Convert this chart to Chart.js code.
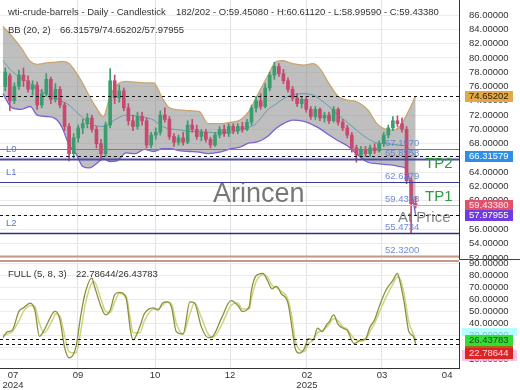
<!DOCTYPE html>
<html>
<head>
<meta charset="utf-8">
<script src="https://cdn.jsdelivr.net/npm/chart.js@4.4.1/dist/chart.umd.min.js"></script>
<style>
  html, body { margin: 0; padding: 0; background: #fff; }
  #wrap { position: relative; width: 520px; height: 390px; overflow: hidden; }
  canvas { position: absolute; left: 0; }
  #priceCanvas { top: 0; }
  #stochCanvas { top: 260px; }
</style>
</head>
<body>
<div id="wrap">
  <canvas id="priceCanvas" width="520" height="260"></canvas>
  <canvas id="stochCanvas" width="520" height="130"></canvas>
</div>
<script>
// ---- data (bar index on x) ----
const candleIdx = [1,3,5,7,9,11,13,15,17,19, 21,23,25,27,29,31,33,35,37,39,
  41,43,45,47,49,51,53,55,57,59, 61,63,65,67,69,71,73,75,77,79,
  81,83,85,87,89,91,93,95,97,99, 101,103,105,107,109,111,113,115,117,119,
  121,123,125,127,129,131,133,135,137,139, 141,143,145,147,149,151,153,155,157,159,
  161,163,165,167,169,171,173,175,177,179, 181];
const opens = [76.0,77.5,74.0,76.0,77.6,76.8,75.6,76.2,73.4,75.0,
  77.0,74.2,75.6,73.4,70.4,66.6,68.8,70.2,70.8,71.6,
  70.0,68.0,66.6,70.6,76.8,74.4,75.4,73.0,71.2,70.4,
  71.8,71.2,67.8,69.2,69.6,72.0,71.4,69.0,68.2,68.8,
  68.2,70.6,70.0,69.0,69.6,68.6,67.8,69.2,70.0,69.4,
  70.4,69.8,70.4,70.0,71.0,73.0,74.0,73.2,75.8,77.6,
  78.8,77.8,76.8,75.6,74.4,73.6,74.2,72.8,71.8,72.8,
  71.6,72.0,71.2,72.8,71.0,70.2,69.2,67.4,66.4,67.2,
  66.6,67.4,67.0,68.0,69.2,70.2,71.2,70.8,70.0,62.8,
  59.4508];
const highs = [78.6,77.8,76.5,78.3,78.6,77.5,76.8,76.6,75.6,77.8,
  77.3,76.4,76.0,73.8,70.8,69.4,70.6,71.4,72.2,72.0,
  70.4,68.6,71.0,78.5,77.6,76.2,75.8,73.6,72.0,72.4,
  72.4,71.6,69.6,70.2,72.6,73.0,71.8,69.4,69.2,69.6,
  71.2,71.4,70.6,70.0,70.0,68.9,69.6,70.4,70.6,70.8,
  70.8,70.8,71.0,71.4,73.4,74.6,75.0,76.4,78.0,79.4,
  79.2,78.4,77.2,76.0,75.0,74.6,74.6,73.2,73.2,73.0,
  72.4,72.4,73.2,73.0,71.4,70.6,69.6,67.8,67.6,67.6,
  67.8,68.0,68.4,69.6,70.6,71.8,71.9,71.6,70.4,63.2,
  60.6112];
const lows = [75.4,72.6,73.6,75.6,76.0,75.2,74.8,72.8,73.0,74.6,
  73.6,73.8,73.0,69.8,65.6,66.0,68.2,69.4,70.2,69.6,
  67.4,65.7,66.2,70.2,73.6,73.8,72.6,70.6,69.8,70.0,
  70.6,67.4,67.4,68.6,69.2,71.0,68.6,67.6,67.8,67.8,
  68.0,69.6,68.6,68.4,68.2,67.4,67.6,68.8,69.0,69.0,
  69.4,69.4,69.6,69.8,70.6,72.4,72.8,73.0,75.4,77.0,
  77.4,76.4,75.2,74.0,73.2,73.0,72.4,71.4,71.4,71.2,
  71.0,70.8,71.0,70.6,69.8,68.8,66.8,65.4,66.0,66.2,
  66.2,66.6,66.8,67.6,68.8,69.8,70.4,69.6,62.4,55.5,
  58.9959];
const closes = [78.0,74.0,76.0,77.6,76.8,75.6,76.2,73.4,75.0,77.0,
  74.2,75.6,73.4,70.4,66.6,68.8,70.2,70.8,71.6,70.0,
  68.0,66.6,70.6,76.8,74.4,75.4,73.0,71.2,70.4,71.8,
  71.2,67.8,69.2,69.6,72.0,71.4,69.0,68.2,68.8,68.2,
  70.6,70.0,69.0,69.6,68.6,67.8,69.2,70.0,69.4,70.4,
  69.8,70.4,70.0,71.0,73.0,74.0,73.2,75.8,77.6,78.8,
  77.8,76.8,75.6,74.4,73.6,74.2,72.8,71.8,72.8,71.6,
  72.0,71.2,72.8,71.0,70.2,69.2,67.4,66.4,67.2,66.6,
  67.4,67.0,68.0,69.2,70.2,71.2,70.8,70.0,62.8,59.6,
  59.4338];

// Bollinger bands (20, 2)
const bbIdx = [0,4,8,12,15,19,23,26,29,32, 35,38,41,44,47,50,54,58,62,66,
  70,73,78,82,86,90,95,100,104,108, 111,116,120,123,127,132,136,139,143,147,
  151,155,160,164,167,171,174,177,179,181];
const bbUpper = [84.4,83.0,81.4,79.5,79.1,79.3,79.4,79.5,79.2,78.0,
  76.4,74.6,73.0,71.8,74.6,76.2,76.7,76.6,76.5,76.5,
  74.3,73.0,72.7,72.6,72.5,70.8,70.8,71.0,71.3,72.6,
  74.4,77.4,79.5,79.6,79.2,79.0,79.2,78.5,76.4,74.6,
  74.1,73.9,72.7,70.8,70.1,69.9,70.4,72.0,73.3,74.65202];
const bbMiddle = [79.6,78.1,77.2,76.4,75.6,75.0,74.4,73.9,73.4,72.5,
  71.6,70.8,70.5,70.4,70.9,71.5,72.0,71.9,71.7,71.3,
  70.4,70.1,69.9,69.7,69.7,69.6,69.5,69.6,69.9,70.3,
  70.8,72.7,73.6,74.3,74.8,75.0,74.8,74.2,73.2,72.0,
  71.0,69.9,68.7,68.1,68.0,67.9,67.8,67.6,67.0,66.31579];
const bbLower = [75.0,73.0,72.8,73.2,72.0,71.8,71.5,70.2,67.8,66.6,
  64.8,64.6,65.2,65.9,65.5,65.6,66.7,66.6,67.2,66.9,
  67.3,67.3,67.0,66.9,66.8,66.6,66.8,67.3,67.5,68.1,
  68.2,69.0,70.2,70.8,71.3,71.1,70.6,70.1,69.2,68.4,
  67.7,66.6,65.4,65.2,65.1,65.0,64.8,64.4,61.5,57.97955];

// Full stochastic (5, 8, 3)
const stochIdx = [0,2,4,7,9,12,14,16,18,22, 23,25,27,29,32,34,36,39,40,43,
  45,47,49,51,54,56,57,60,62,66, 68,70,72,74,76,79,82,84,87,90,
  92,96,100,103,105,108,109,111,114,116, 118,120,122,125,127,128,130,132,134,136,
  138,140,142,143,145,147,149,151,154,157, 159,161,163,165,168,171,173,174,176,178,
  180,181];
const stochK = [28,33,34,50,53,57,51,29,34,49, 50,43,20,11,20,45,65,78,72,54,
  47,51,64,66,61,33,26,37,48,53, 51,57,58,53,33,31,58,57,37,28,
  29,45,59,55,50,54,68,80,82,76, 69,71,65,57,33,20,15,18,27,26,
  36,33,39,41,47,39,36,34,23,26, 27,37,43,54,68,76,82,76,57,33,
  29,22.78644];
const stochD = [30,31,33,42,50,55,54,40,32,44, 48,46,30,16,15,32,55,74,75,60,
  50,49,58,65,63,42,32,32,42,52, 52,55,58,56,40,31,48,57,45,31,
  28,39,55,57,52,52,61,75,81,79, 72,70,67,60,42,27,18,16,23,26,
  32,34,37,39,44,42,37,35,27,25, 26,33,40,49,62,73,79,78,64,41,
  31,26.43783];

// horizontal levels
const levelValues = [67.197, 65.8958, 62.6279, 59.4338, 55.4734, 52.32];
const levelTags = ['', 'L0', 'L1', '', 'L2', ''];

// x axis ticks (bar index) and labels
const tickPos = [4.4, 32.9, 66.7, 99.6, 133.3, 166.2, 194.8];
const tickMonths = ['07', '09', '10', '12', '02', '03', '04'];
const tickYears = ['2024', '', '', '', '2025', '', ''];

const barNumber = '182/202';

// ---- drawing ----
const FONT = '"Liberation Sans", Arial, sans-serif';
Chart.defaults.font.family = FONT;
Chart.defaults.font.size = 9.5;
Chart.defaults.color = '#333';

const GREEN = '#3a9d6e';
const RED = '#c8496f';
const xMin = -1.3, xMax = 200;

const pts = (xs, ys) => xs.map((x, i) => ({ x: x, y: ys[i] }));
const candleColors = closes.map((c, i) => c >= opens[i] ? GREEN : RED);
const gridCol = (ctx) => (ctx.index === 0 || ctx.index === tickPos.length - 1) ? 'rgba(0,0,0,0)' : '#e2e2e2';

function xScale(showLabels, h) {
  return {
    type: 'linear', min: xMin, max: xMax, offset: false,
    afterBuildTicks: (s) => { s.ticks = tickPos.map(v => ({ value: v })); },
    afterFit: (s) => { s.height = h; s.paddingLeft = 0; s.paddingRight = 0; },
    ticks: {
      display: showLabels, autoSkip: false, maxRotation: 0, minRotation: 0, padding: 3,
      color: '#333', font: { size: 9.5, lineHeight: 1 },
      callback: (v, i) => tickYears[i] ? [tickMonths[i], tickYears[i]] : tickMonths[i]
    },
    grid: { color: gridCol, drawTicks: false, offset: false },
    border: { display: showLabels, color: '#333' }
  };
}

function yScale(min, max, step) {
  return {
    position: 'right', min: min, max: max,
    afterFit: (s) => { s.width = 61; s.paddingTop = 0; s.paddingBottom = 0; },
    ticks: {
      stepSize: step, includeBounds: false, autoSkip: false, padding: 10, color: '#333',
      callback: (v) => v > max - 1.5 && step === 2 ? null : v.toFixed(5)
    },
    grid: { color: '#ececec', drawTicks: false },
    border: { color: '#333' }
  };
}

function valueBox(ctx, yy, bg, fg, text) {
  ctx.fillStyle = bg;
  ctx.fillRect(465, Math.round(yy) - 5, 48, 11);
  ctx.fillStyle = fg;
  ctx.fillText(text, 469, Math.round(yy) + 0.5);
}

const levelStyles = [
  { color: '#4c9c4c', width: 1 },
  { color: '#4a4aaa', width: 2 },
  { color: '#3a3a9c', width: 1 },
  { color: '#b4b4b4', width: 1 },
  { color: '#2c2c8c', width: 1.5 },
  { color: '#c49a8a', width: 2 }
];

const priceOverlay = {
  id: 'priceOverlay',
  afterDatasetsDraw(chart) {
    const { ctx, chartArea: a, scales: { y } } = chart;
    const py = (v) => Math.round(y.getPixelForValue(v));
    ctx.save();
    ctx.beginPath();
    ctx.rect(a.left, a.top, a.right - a.left, a.bottom - a.top);
    ctx.clip();

    levelValues.forEach((v, i) => {
      const st = levelStyles[i];
      const yy = py(v) + 0.5;
      ctx.strokeStyle = st.color;
      ctx.lineWidth = st.width;
      ctx.beginPath(); ctx.moveTo(a.left, yy); ctx.lineTo(a.right, yy); ctx.stroke();
    });

    ctx.setLineDash([3, 3]);
    ctx.strokeStyle = '#111';
    ctx.lineWidth = 1;
    [bbUpper[bbUpper.length - 1], bbMiddle[bbMiddle.length - 1], bbLower[bbLower.length - 1]].forEach(v => {
      const yy = py(v) + 0.5;
      ctx.beginPath(); ctx.moveTo(a.left, yy); ctx.lineTo(a.right, yy); ctx.stroke();
    });
    ctx.setLineDash([]);

    ctx.textBaseline = 'middle';
    ctx.font = '9.5px ' + FONT;
    ctx.fillStyle = 'rgba(95,125,215,0.9)';
    levelValues.forEach(v => ctx.fillText(v.toFixed(4), 385, py(v) - 6));
    ctx.fillStyle = '#5b78cc';
    levelTags.forEach((t, i) => { if (t) ctx.fillText(t, 6, py(levelValues[i]) - 9.5); });

    ctx.textBaseline = 'alphabetic';
    ctx.font = '27px ' + FONT;
    ctx.fillStyle = 'rgba(95,95,95,0.85)';
    ctx.fillText('Arincen', 213, 202);
    ctx.font = '15px ' + FONT;
    ctx.fillStyle = '#2e9a3e';
    ctx.fillText('TP2', 425, 168);
    ctx.fillText('TP1', 425, 201);
    ctx.fillStyle = 'rgba(110,110,110,0.85)';
    ctx.fillText('At Price', 398, 222);
    ctx.restore();
  },
  afterDraw(chart) {
    const { ctx, scales: { y } } = chart;
    const last = candleIdx.length - 1;
    ctx.save();
    ctx.font = '9.5px ' + FONT;
    ctx.textBaseline = 'middle';
    ctx.fillStyle = '#333';
    ctx.fillText('wti-crude-barrels - Daily - Candlestick', 8, 12);
    ctx.fillText(barNumber + ' - O:' + opens[last].toFixed(5) + ' - H:' + highs[last].toFixed(5) +
      ' - L:' + lows[last].toFixed(5) + ' - C:' + closes[last].toFixed(5), 176, 12);
    ctx.fillText('BB (20, 2)', 8, 30);
    ctx.fillText(bbMiddle[bbMiddle.length - 1].toFixed(5) + '/' + bbUpper[bbUpper.length - 1].toFixed(5) +
      '/' + bbLower[bbLower.length - 1].toFixed(5), 60, 30);

    valueBox(ctx, y.getPixelForValue(bbUpper[bbUpper.length - 1]), '#e2a94a', '#2a2000', bbUpper[bbUpper.length - 1].toFixed(5));
    valueBox(ctx, y.getPixelForValue(bbMiddle[bbMiddle.length - 1]), '#2f8ee6', '#fff', bbMiddle[bbMiddle.length - 1].toFixed(5));
    valueBox(ctx, y.getPixelForValue(closes[last]), '#e2506a', '#ffe8ee', closes[last].toFixed(5));
    valueBox(ctx, y.getPixelForValue(bbLower[bbLower.length - 1]), '#6f3ce0', '#fff', bbLower[bbLower.length - 1].toFixed(5));

    ctx.fillStyle = '#444';
    ctx.fillRect(459, 259, 61, 1);
    ctx.restore();
  }
};

const stochOverlay = {
  id: 'stochOverlay',
  afterDatasetsDraw(chart) {
    const { ctx, chartArea: a, scales: { y } } = chart;
    ctx.save();
    ctx.setLineDash([3, 3]);
    ctx.strokeStyle = '#111';
    ctx.lineWidth = 1;
    [stochD[stochD.length - 1], stochK[stochK.length - 1]].forEach(v => {
      const yy = Math.round(y.getPixelForValue(v)) + 0.5;
      ctx.beginPath(); ctx.moveTo(a.left, yy); ctx.lineTo(a.right, yy); ctx.stroke();
    });
    ctx.restore();
  },
  afterDraw(chart) {
    const { ctx, chartArea: a, scales: { y } } = chart;
    const kLast = stochK[stochK.length - 1], dLast = stochD[stochD.length - 1];
    ctx.save();
    ctx.fillStyle = '#c49a8a';
    ctx.fillRect(a.left, 0, a.right - a.left, 2);
    ctx.font = '9.5px ' + FONT;
    ctx.textBaseline = 'middle';
    ctx.fillStyle = '#333';
    ctx.fillText('FULL (5, 8, 3)', 8, 14);
    ctx.fillText(kLast.toFixed(5) + '/' + dLast.toFixed(5), 76, 14);

    const yd = Math.round(y.getPixelForValue(dLast)) + 1;
    const yk = Math.max(Math.round(y.getPixelForValue(kLast)), yd + 13);
    ctx.fillStyle = 'rgba(150,255,255,0.7)';
    ctx.fillRect(462, yd - 12, 55, 8);
    ctx.fillStyle = 'rgba(255,170,220,0.7)';
    ctx.fillRect(462, yk - 3, 55, 11);
    ctx.fillStyle = '#a8680e';
    ctx.fillRect(465, yd + 5, 48, 4);
    valueBox(ctx, yd, '#36dc36', '#1c4a1c', dLast.toFixed(5));
    valueBox(ctx, yk, '#dd2424', '#ffd6e4', kLast.toFixed(5));
    ctx.restore();
  }
};

new Chart(document.getElementById('priceCanvas'), {
  type: 'line',
  data: {
    datasets: [
      { type: 'line', data: pts(bbIdx, bbUpper), borderColor: '#c9a56b', borderWidth: 1.3,
        pointRadius: 0, cubicInterpolationMode: 'monotone', fill: 1,
        backgroundColor: 'rgba(128,128,128,0.5)', order: 3 },
      { type: 'line', data: pts(bbIdx, bbLower), borderColor: '#7a62d8', borderWidth: 1.3,
        pointRadius: 0, cubicInterpolationMode: 'monotone', fill: false, order: 2 },
      { type: 'line', data: pts(bbIdx, bbMiddle), borderColor: '#5f9cb4', borderWidth: 1,
        pointRadius: 0, cubicInterpolationMode: 'monotone', fill: false, order: 2 },
      { type: 'bar', data: candleIdx.map((x, i) => ({ x: x, y: [lows[i], highs[i]] })),
        backgroundColor: candleColors, barThickness: 1, grouped: false, borderWidth: 0, order: 1 },
      { type: 'bar', data: candleIdx.map((x, i) => ({ x: x, y: [opens[i], closes[i]] })),
        backgroundColor: candleColors, barThickness: 3, grouped: false, borderWidth: 0,
        minBarLength: 1, order: 0 }
    ]
  },
  options: {
    responsive: false, animation: false, devicePixelRatio: 1, events: [],
    layout: { padding: 0 },
    plugins: { legend: { display: false }, tooltip: { enabled: false },
      filler: { drawTime: 'beforeDatasetsDraw' } },
    scales: { x: xScale(false, 0), y: yScale(51.72, 88.099, 2) }
  },
  plugins: [priceOverlay]
});

new Chart(document.getElementById('stochCanvas'), {
  type: 'line',
  data: {
    datasets: [
      { data: pts(stochIdx, stochD), borderColor: '#cbd67e', borderWidth: 1.5, pointRadius: 0,
        cubicInterpolationMode: 'monotone', fill: false, order: 1 },
      { data: pts(stochIdx, stochK), borderColor: '#8e8e3e', borderWidth: 1.3, pointRadius: 0,
        cubicInterpolationMode: 'monotone', fill: false, order: 0 }
    ]
  },
  options: {
    responsive: false, animation: false, devicePixelRatio: 1, events: [],
    layout: { padding: { top: 2, left: 0, right: 0, bottom: 0 } },
    plugins: { legend: { display: false }, tooltip: { enabled: false } },
    scales: { x: xScale(true, 22), y: yScale(2.44, 91.5, 10) }
  },
  plugins: [stochOverlay]
});
</script>
</body>
</html>
